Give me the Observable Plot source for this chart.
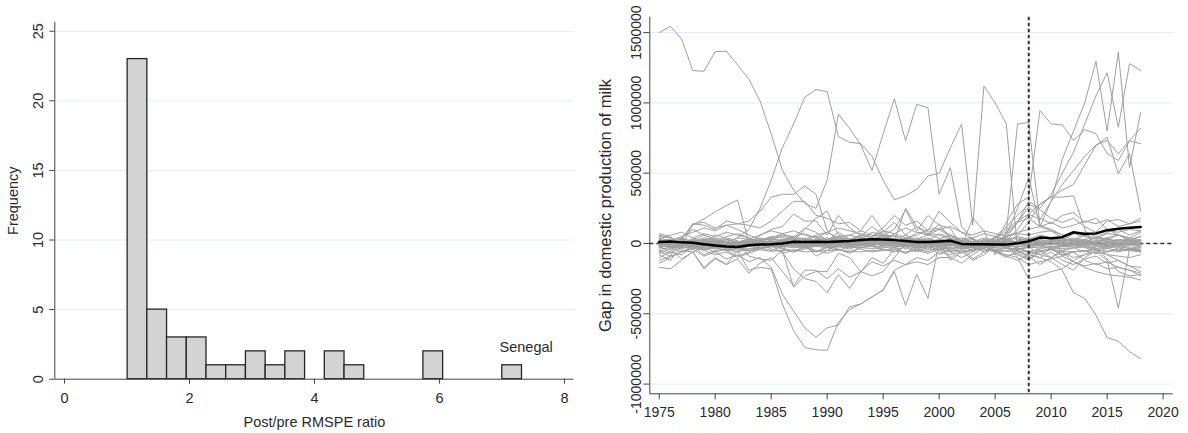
<!DOCTYPE html>
<html><head><meta charset="utf-8">
<script src="https://cdn.jsdelivr.net/npm/d3@7"></script>
<script src="https://cdn.jsdelivr.net/npm/@observablehq/plot@0.6"></script>
<style>
html,body{margin:0;padding:0;background:#fff;}
#wrap{position:relative;width:1188px;height:433px;overflow:hidden;background:#fff;}
#left,#right{position:absolute;top:0;}
#left{left:0;} #right{left:590px;}
</style></head><body><div id="wrap"><div id="left"></div><div id="right"></div></div>
<script>
// ---------- Left panel: histogram of post/pre RMSPE ratios ----------
const binStart = 1.01;
const binWidth = 0.3155;
const binCounts = [23,5,3,3,1,1,2,1,2,0,2,1,0,0,0,2,0,0,0,1];
const histXTicks = [0,2,4,6,8];
const histYTicks = [0,5,10,15,20,25];
const treatedUnitLabel = "Senegal";

// ---------- Right panel: gaps (thousands) by year ----------
const years = [1975,1976,1977,1978,1979,1980,1981,1982,1983,1984,1985,1986,1987,1988,1989,1990,1991,1992,1993,1994,1995,1996,1997,1998,1999,2000,2001,2002,2003,2004,2005,2006,2007,2008,2009,2010,2011,2012,2013,2014,2015,2016,2017,2018];
const treatmentYear = 2008;
const gapXTicks = [1975,1980,1985,1990,1995,2000,2005,2010,2015,2020];
const gapYTicks = [-1000000,-500000,0,500000,1000000,1500000];

const senegal = [10,15,8,5,-5,-15,-22,-25,-12,-8, -5,0,12,10,12, 10,14,18,25,30, 28,24,18,10,10, 15,20,-3,-5,-5, -8,-8,2,15,42, 38,45,80,68,72, 95,105,112,117];

const placeboA = [1500,1545,1455,1230,1225,1365,1368,1270,1170,1015, 780,520,380,285,250, 450,920,820,700,520, 780,1030,730,990,965, 350,540,120,30,-60, -20,30,40,20,50, 30,10,40,20,-10, 10,30,20,10];
const placeboB = [20,-10,10,0,30,20,10,40,100,250, 450,680,850,1040,1095, 1080,760,720,710,620, 450,310,340,385,480, 500,680,850,130,1120, 1000,850,-50,-100,-30, 20,-20,10,30,0, -20,10,0,-10];
const placeboC = [-170,-180,-120,-60,-170,-100,-150,-50,-190,-170, -180,-430,-620,-740,-756, -760,-560,-470,-430,-380, -330,-190,-150,-100,-120, -60,-80,-40,-30,-10, -50,-90,-70,-110,-60, -40,-80,-60,-50,-70, -30,-60,-40,-50];
const placeboD = [-140,-100,-60,-40,-90,-60,-110,-80,-130,-100, -170,-360,-480,-600,-666, -600,-580,-450,-430,-380, -330,-200,-440,-220,-390, 10,-120,-60,-40,-20, -60,-30,-50,-20,-80, -100,-50,-30,-60,-20, -40,-10,-30,-60];
const placeboE = [-60,-90,30,130,175,225,270,310,10,-30, -50,-20,-10,20,0, 30,50,20,0,-20, 10,30,0,-20,10, 20,-10,-30,10,20, 0,-10,20,40,30, 10,-10,20,0,10, 30,20,10,0];
const placeboF = [-20,-60,30,140,130,100,160,140,160,230, 330,350,350,410,350, 90,20,-20,30,80, 60,20,-10,30,60, 40,10,-20,30,10, -10,20,50,30,10, 20,-10,0,30,40, 20,-20,10,30];
const placeboG = [70,50,-20,140,150,110,130,140,130,110, 160,230,300,300,200, 180,140,150,90,60, 50,30,60,20,40, 10,30,20,-10,10, 20,30,10,0,40, 30,20,0,-20,10, 0,20,30,10];
const placeboH = [-30,20,-50,-60,-20,10,-40,-60,-10,60, 100,120,210,160,160, 60,200,110,60,40, 80,150,60,120,80, 100,50,20,-30,-10, 50,120,200,280,240, 180,150,180,120,80, 160,170,140,180];
const placeboI = [-100,-60,-80,-20,-40,-30,-50,-90,-60,-20, 30,50,40,-10,-90, -50,-10,60,90,200, 90,20,250,120,60, 140,30,20,-10,10, 40,80,150,260,180, 140,200,220,150,180, 100,60,20,50];
const placeboJ = [10,-40,-110,-60,-180,-110,-150,-110,-210,-140, -100,-200,-300,-190,-190, -250,-180,-240,-200,-230, -200,-100,0,-40,-60, -20,-100,-140,-80,-30, 20,40,-50,-90,-150, -100,-60,-130,-170,-200, -220,-230,-240,-260];
const placeboK = [60,40,-30,30,-10,60,40,20,-90,-110, -120,-50,-310,-230,-200, -200,-70,-100,-200,-130, -160,-120,-150,-130,-150, -100,-100,-50,-120,-80, -20,10,-100,-250,-230, -200,-180,-120,-80,-30, -110,-200,-230,-220];
const placeboL = [-80,-120,-20,40,70,50,80,60,40,0, -40,-60,-180,-250,-270, -350,-220,-320,-200,-100, -140,-40,-70,-20,-40, 20,-60,-100,-60,-20, -60,-100,-50,0,-50, -100,-150,-190,-100,-50, -80,-120,-160,-200];
const placeboM = [20,-30,10,-40,20,0,-50,-20,10,30, -20,10,40,-10,-60, -30,10,-20,40,20, -10,30,-40,10,-20, 30,0,-40,-20,30, -50,-20,-60,-80,-100, -130,-190,-350,-390,-510, -670,-695,-770,-820];
const placeboN = [-30,-10,20,0,-20,-40,-10,10,-20,-30, -10,20,0,-30,-20, 10,-20,-40,-10,20, 0,-30,-10,20,-20, -40,-10,20,-30,-60, -20,10,-30,-60,-80, -40,-60,-100,-80,-60, -120,-460,-40,-10];
const placeboO = [0,20,40,10,-20,0,30,10,-10,20, 40,10,-20,20,50, 30,0,20,50,10, -20,10,40,20,-10, 30,60,20,-20,10, 40,100,160,210,280, 330,330,340,100,-50, -80,-90,-100,-80];
const placeboP = [30,0,-20,10,40,20,-10,10,30,0, -20,0,30,10,-10, 20,40,10,-10,30, 50,20,-10,30,10, -30,10,40,0,-20, -50,80,850,860,130, 100,60,20,80,50, 30,60,40,20];
const placeboQ = [-20,10,30,-10,0,20,-20,-10,10,20, 0,-20,10,30,0, -10,20,0,-20,10, 30,10,-20,0,20, 10,-10,20,40,-30, 0,150,280,330,946, 851,844,733,810,780, 640,590,730,710];
const placeboR = [10,-20,0,20,-10,10,30,0,-20,10, 20,0,-10,20,10, 0,-20,10,30,0, -10,20,0,-30,10, 30,0,-20,10,0, 0,60,250,470,120, 300,600,800,1000,1297, 800,1361,540,934];
const placeboS = [-10,10,20,0,-20,0,20,-10,0,20, 10,-10,20,0,-20, 10,30,0,-10,20, 0,-20,10,20,-10, 20,0,-10,-30,-20, -20,40,150,300,250, 350,500,650,850,1050, 1214,827,1278,1230];
const placeboT = [0,20,-10,10,30,0,-20,10,20,0, -10,20,0,-20,10, 20,0,-20,10,30, 10,-10,20,0,-20, 0,20,10,-10,30, 10,20,100,210,170, 300,420,520,620,700, 733,638,733,820];
const placeboU = [20,0,10,-20,0,30,10,-10,0,20, 0,30,10,-10,20, 0,-10,20,10,-20, 20,0,-10,30,10, -10,20,0,10,-20, 0,0,60,150,280, 330,380,420,560,697, 756,496,640,230];
const placeboV = [-60,-20,40,100,60,20,0,-20,30,60, 90,70,40,110,80, 20,80,30,50,120, 60,100,240,90,200, 130,110,-20,180,90, -80,60,150,180,120, 90,40,10,60,40, 80,100,60,90];
const placeboW = [40,-30,-60,-20,10,-30,-50,-20,20,40, 0,-40,20,100,180, 230,60,30,-20,50, 110,200,130,160,90, 230,150,80,30,-40, 20,-30,-80,-120,-60, -30,-90,-60,-120,-150, -130,-170,-190,-230];
const placeboZ1 = [50,40,10,-30,20,40,30,10,-20,20, 40,60,50,70,40, 20,50,60,40,30, 60,50,30,40,20, 70,40,10,-10,20, 30,50,70,60,80, 90,60,70,80,60, 90,80,100,90];
const placeboZ2 = [-50,-70,-20,10,-30,-60,-40,-20,-50,-40, -20,-30,-60,-40,-10, -30,-50,-20,-40,-60, -50,-30,-70,-40,-20, -50,-60,-30,-10,-40, -60,-50,-30,-70,-60, -40,-80,-60,-50,-70, -60,-40,-50,-60];
const placeboZ3 = [20,30,-10,20,60,30,10,40,30,20, 50,40,30,10,20, 40,20,-10,10,30, 40,60,20,80,70, 60,30,10,-20,-10, 20,40,30,20,10, -10,20,30,10,40, 70,60,40,80];
const placeboZ4 = [-20,10,30,-10,-40,-20,0,-30,-10,-40, -20,10,-10,-30,-20, 10,-10,-30,-10,10, -20,10,30,-10,10, -20,-40,-10,-60,-20, -10,-30,-50,-20,-10, -40,-20,-10,-30,-50, -20,-10,-40,-30];
const placeboZ5 = [30,60,80,40,20,10,50,70,40,10, 0,20,50,30,60, 80,40,30,60,40, 20,70,40,60,100, 110,60,30,40,70, 50,20,0,30,60, 40,20,70,50,30, 40,60,30,50];
const placeboZ6 = [-70,-40,10,-20,-50,-80,-60,-100,-70,-40, -10,-40,-60,-20,-50, -70,-40,-60,-30,-10, -40,-60,-20,-50,-70, -40,-30,-70,-50,-20, -60,-80,-100,-150,-130, -110,-90,-130,-160,-140, -180,-170,-190,-210];
const placeboZ7 = [10,-20,-40,-10,20,-10,-30,10,30,10, -20,-10,20,40,10, -20,0,30,10,-10, 20,0,-20,10,30, 0,-20,10,30,-10, 10,-30,20,40,10, -10,30,20,-20,10, 40,0,-10,20];
const placeboZ8 = [0,10,30,20,-10,-30,-50,-40,-20,0, 20,10,-10,0,30, 20,0,-10,10,20, 0,-10,10,20,-10, 20,30,0,10,40, 20,-10,-30,-60,-40, -20,-50,-30,-10,-40, -60,-30,-50,-40];
const placeboZ9 = [-120,-90,-60,-20,-80,-50,-40,-60,-40,-30, -10,-70,-50,-30,-60, -20,-40,-70,-30,-20, -50,-40,-30,-60,-20, -80,-40,-20,-110,-60, -40,-90,-120,-80,-100, -60,-120,-150,-110,-90, -140,-120,-160,-170];
const placeboZ10 = [40,20,50,80,110,90,130,100,60,30, 40,70,90,60,40, 80,110,90,70,50, 90,70,110,80,60, 100,120,80,60,90, 70,50,80,100,120, 150,110,130,160,140, 170,120,140,160];
const placeboT1 = [5,10,-5,0,10,5,-5,0,10,15, 10,5,20,15,10, 5,15,20,10,5, 15,10,5,20,10, 5,15,10,-5,5, 10,15,5,0,5, 10,5,0,10,5, 10,5,0,5];
const placeboT2 = [-10,-5,-15,-10,-5,-20,-10,-15,-5,0, -5,-10,0,-5,-10, -15,-5,-10,-5,0, -10,-5,-15,-10,-5, -10,-15,-5,-10,-20, -15,-10,-5,-15,-10, -5,-15,-10,-5,-10, -15,-10,-5,-10];
const placeboT3 = [20,15,10,25,15,20,10,5,15,25, 30,25,35,30,25, 20,30,25,35,30, 25,20,30,25,20, 15,25,20,10,15, 20,10,15,25,20, 15,20,25,20,15, 25,20,15,25];
const placeboT4 = [0,-5,5,-10,0,5,-5,-10,0,5, 0,-5,5,0,-5, 5,0,-5,0,5, -5,0,5,-5,0, 5,-5,0,-10,-5, 0,5,-5,-10,0, -5,-10,-5,0,-5, -10,-5,0,-5];
const placeboT5 = [-25,-20,-30,-15,-25,-30,-20,-25,-35,-30, -25,-20,-30,-25,-20, -30,-25,-20,-30,-35, -30,-25,-20,-30,-25, -20,-30,-35,-25,-20, -30,-35,-40,-30,-25, -30,-35,-30,-25,-35, -30,-25,-35,-30];
const placeboT6 = [10,0,5,15,5,-5,0,10,5,0, 15,20,10,5,15, 25,20,15,20,10, 5,15,20,10,5, 15,10,5,0,10, 5,0,10,15,5, 20,25,15,10,20, 15,20,25,20];
const placeboT7 = [-40,-30,-20,-35,-45,-30,-25,-40,-50,-45, -55,-50,-45,-60,-55, -50,-45,-55,-60,-50, -45,-55,-60,-50,-45, -40,-50,-55,-45,-40, -50,-55,-60,-55,-50, -45,-55,-60,-50,-45, -55,-50,-45,-55];
const placeboT8 = [-5,-10,-8,-12,-6,-4,-10,-14,-8,-5, -7,-12,-9,-5,-8, -11,-6,-9,-13,-7, -5,-9,-12,-8,-6, -10,-13,-7,-9,-12, -8,-6,-10,-12,-9, -7,-11,-13,-9,-8, -12,-10,-8,-11];
const placeboT9 = [-15,-18,-12,-20,-16,-14,-19,-22,-17,-15, -13,-18,-20,-16,-14, -19,-21,-17,-15,-18, -20,-16,-14,-19,-22, -17,-15,-18,-21,-16, -14,-19,-22,-18,-16, -20,-23,-18,-16,-19, -21,-18,-16,-20];
const placeboT10 = [2,0,4,-2,1,3,-1,2,4,1, 3,5,2,0,4, 6,3,1,4,2, 0,3,5,2,1, 4,2,0,-2,1, 3,1,-1,2,4, 5,3,2,4,6, 3,5,4,2];

const placebos = [placeboT1,placeboT2,placeboT3,placeboT4,placeboT5,placeboT6,placeboT7,placeboT8,placeboT9,placeboT10,
  placeboZ1,placeboZ2,placeboZ3,placeboZ4,placeboZ5,placeboZ6,placeboZ7,placeboZ8,placeboZ9,placeboZ10,
  placeboA,placeboB,placeboC,placeboD,placeboE,placeboF,placeboG,placeboH,placeboI,placeboJ,placeboK,
  placeboL,placeboM,placeboN,placeboO,placeboP,placeboQ,placeboR,placeboS,placeboT,placeboU,placeboV,placeboW];

// ---------- build tables ----------
const histBins = binCounts.map((c, i) => ({x1: binStart + i * binWidth, x2: binStart + (i + 1) * binWidth, count: c}))
  .filter(d => d.count > 0);
const treatedBin = histBins[histBins.length - 1];

const gapRows = [];
placebos.forEach((s, k) => s.forEach((v, i) => gapRows.push({unit: k, year: years[i], gap: v * 1000})));
const senegalRows = senegal.map((v, i) => ({year: years[i], gap: v * 1000}));

const FONT = "'Liberation Sans', Arial, Helvetica, sans-serif";
const INK = "#2a2a2a";
const GRID = "#e3edef";

// ---------- left plot ----------
const histX = [-0.155, 8.152];
const histY = [0, 25.65];
const left = Plot.plot({
  width: 590, height: 433,
  marginLeft: 54.3, marginRight: 16.5, marginTop: 21.7, marginBottom: 54.3,
  style: {fontFamily: FONT, fontSize: "14.5px", color: INK, background: "transparent", overflow: "visible"},
  x: {domain: histX},
  y: {domain: histY},
  marks: [
    Plot.ruleY(histYTicks.filter(d => d > 0), {stroke: GRID, strokeWidth: 1}),
    Plot.rect(histBins, {x1: "x1", x2: "x2", y1: 0, y2: "count", fill: "#d3d3d3", stroke: "#262626", strokeWidth: 1.3}),
    Plot.ruleX([histX[0]], {stroke: "#444", strokeWidth: 1}),
    Plot.ruleY([histY[0]], {stroke: "#444", strokeWidth: 1}),
    Plot.axisX({ticks: histXTicks, tickSize: 5, tickPadding: 9, tickFormat: d => String(d), label: null, stroke: "#444"}),
    Plot.axisY({ticks: histYTicks, tickSize: 5, tickPadding: 7, tickRotate: -90, tickFormat: d => String(d), label: null, stroke: "#444"}),
    Plot.text([treatedBin], {x: d => (d.x1 + d.x2) / 2, y: "count", dx: 14, dy: -18, text: () => treatedUnitLabel, fontSize: 14.5, fill: INK}),
    Plot.text(["Frequency"], {frameAnchor: "left", dx: -41.3, rotate: -90, textAnchor: "middle", lineAnchor: "middle", text: d => d, fontSize: 14.5, fill: INK}),
    Plot.text(["Post/pre RMSPE ratio"], {frameAnchor: "bottom", dy: 43.3, textAnchor: "middle", lineAnchor: "middle", text: d => d, fontSize: 14.5, fill: INK})
  ]
});
document.getElementById("left").appendChild(left);

// ---------- right plot ----------
const gapX = [1974.16, 2020.9];
const gapY = [-1069000, 1609500];
const right = Plot.plot({
  width: 598, height: 433,
  marginLeft: 59.3, marginRight: 15.3, marginTop: 16.7, marginBottom: 39.7,
  style: {fontFamily: FONT, fontSize: "14px", color: INK, background: "transparent", overflow: "visible"},
  x: {domain: gapX},
  y: {domain: gapY},
  marks: [
    Plot.ruleY(gapYTicks, {stroke: GRID, strokeWidth: 1}),
    Plot.ruleY([0], {stroke: "#333", strokeWidth: 1.5, strokeDasharray: "4,3"}),
    Plot.line(gapRows, {x: "year", y: "gap", z: "unit", stroke: "#a0a0a0", strokeWidth: 1}),
    Plot.ruleX([treatmentYear], {stroke: "#333", strokeWidth: 2, strokeDasharray: "3.5,2.5"}),
    Plot.line(senegalRows, {x: "year", y: "gap", stroke: "#000", strokeWidth: 2.5}),
    Plot.ruleX([gapX[0]], {stroke: "#444", strokeWidth: 1}),
    Plot.ruleY([gapY[0]], {stroke: "#444", strokeWidth: 1}),
    Plot.axisX({ticks: gapXTicks, tickSize: 6, tickPadding: 7, tickFormat: d => String(d), label: null, stroke: "#444"}),
    Plot.axisY({ticks: gapYTicks, tickSize: 6, tickPadding: 3.3, tickRotate: -90, tickFormat: d => String(d), label: null, stroke: "#444"}),
    Plot.text(["Gap in domestic production of milk"], {frameAnchor: "left", dx: -44, rotate: -90, textAnchor: "middle", lineAnchor: "middle", text: d => d, fontSize: 16.5, fill: INK})
  ]
});
document.getElementById("right").appendChild(right);
</script></body></html>
